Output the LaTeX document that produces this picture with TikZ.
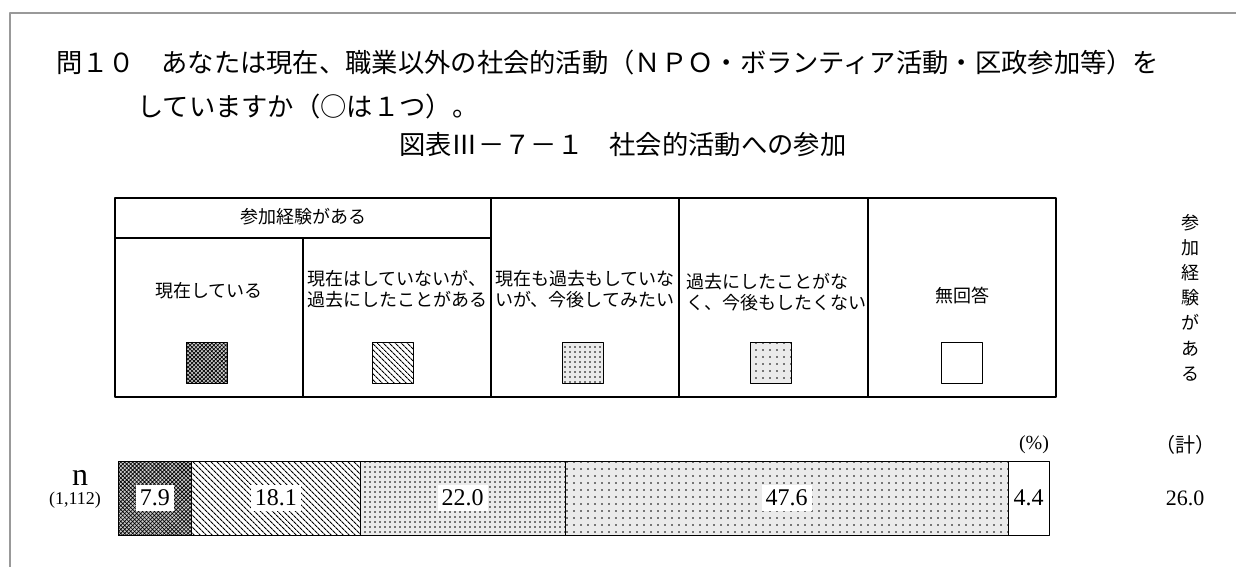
\documentclass[tikz,border=0pt]{standalone}
\usepackage{fontspec}
\newfontfamily\jp{Noto Sans CJK JP}
\newfontfamily\num{Liberation Serif}
\usetikzlibrary{patterns.meta}
\begin{document}
\begin{tikzpicture}[x=1pt,y=-1pt,line join=round,font=\jp]
\def\btop{461}
\def\bbot{535}
\def\ttop{198}
\def\tbot{397}
\tikzset{
  cur/.style={fill=black!20,postaction={pattern={Hatch[angle=45,distance=2.8pt,line width=0.65pt]}}},
  past/.style={fill=white,postaction={pattern={Lines[angle=-45,distance=4pt,line width=1.1pt]}}},
  want/.style={fill=black!8,postaction={pattern={Dots[distance=5pt,radius=0.8pt]}}},
  nowant/.style={fill=black!8,postaction={pattern={Dots[distance=7pt,radius=0.8pt]}}},
  noans/.style={fill=white},
  qtext/.style={anchor=west,inner sep=0pt,font=\jp\fontsize{26.3}{30}\selectfont},
  cell/.style={align=left,inner sep=0pt,font=\jp\fontsize{18}{20.5}\selectfont},
  val/.style={fill=white,inner xsep=4pt,inner ysep=5pt,font=\num\fontsize{24}{24}\selectfont}
}
\useasboundingbox (0,0) rectangle (1236,567);
\draw[gray!80,line width=2pt] (1236,13) -- (10,13) -- (10,567);
\node[qtext] (q1) at (56,63) {問１０　あなたは現在、職業以外の社会的活動（ＮＰＯ・ボランティア活動・区政参加等）を};
\node[qtext] (q2) at (137,107) {していますか（○は１つ）。};
\node[qtext] (cap) at (399,145) {図表Ⅲ－７－１　社会的活動への参加};
\draw[line width=1.4pt] (115,\ttop) rectangle (1056,\tbot);
\draw[line width=1.4pt] (115,238) -- (491,238);
\draw[line width=1.4pt] (303,238) -- (303,\tbot);
\foreach \x in {491,679,868} \draw[line width=1.4pt] (\x,\ttop) -- (\x,\tbot);
\node[cell] (head) at (303,217) {参加経験がある};
\node[cell] (c1) at (209,291) {現在している};
\node[cell] (c2) at (397,289) {現在はしていないが、\\過去にしたことがある};
\node[cell] (c3) at (585,289) {現在も過去もしていな\\いが、今後してみたい};
\node[cell] (c4) at (776,292) {過去にしたことがな\\く、今後もしたくない};
\node[cell] (c5) at (962,296) {無回答};
\foreach \x/\s/\n in {206.5/cur/s1,393/past/s2,582.5/want/s3,771/nowant/s4,962/noans/s5}
  \node[\s,draw,line width=1pt,minimum size=41pt,inner sep=0pt] (\n) at (\x,362.5) {};
\node[cell,align=center,font=\jp\fontsize{18}{25.2}\selectfont] (vt) at (1190,297.5) {参\\加\\経\\験\\が\\あ\\る};
\node[font=\num\fontsize{20}{20}\selectfont] (pct) at (1034,445) {(\%)};
\node[font=\jp\fontsize{20}{20}\selectfont] (kei) at (1185,445) {（計）};
\node[font=\num\fontsize{32}{32}\selectfont,inner sep=0pt] (n) at (80,478) {n};
\node[font=\num\fontsize{18}{18}\selectfont,inner sep=0pt] (nval) at (75,500) {(1,112)};
\foreach \p/\q/\s/\n/\lab in {118/191.5/cur/b1/7.9,191.5/360/past/b2/18.1,360/565/want/b3/22.0,565/1008/nowant/b4/47.6} {
  \path[\s,draw,line width=1pt] (\p,\btop) rectangle (\q,\bbot);
  \node[val] (\n) at ({(\p+\q)/2},498) {\lab};
}
\path[noans,draw,line width=1pt] (1008,\btop) rectangle (1049,\bbot);
\node[val,inner xsep=0pt] (b5) at (1028.5,498) {4.4};
\node[font=\num\fontsize{22}{22}\selectfont] (tot) at (1185,498) {26.0};
\end{tikzpicture}
\end{document}
